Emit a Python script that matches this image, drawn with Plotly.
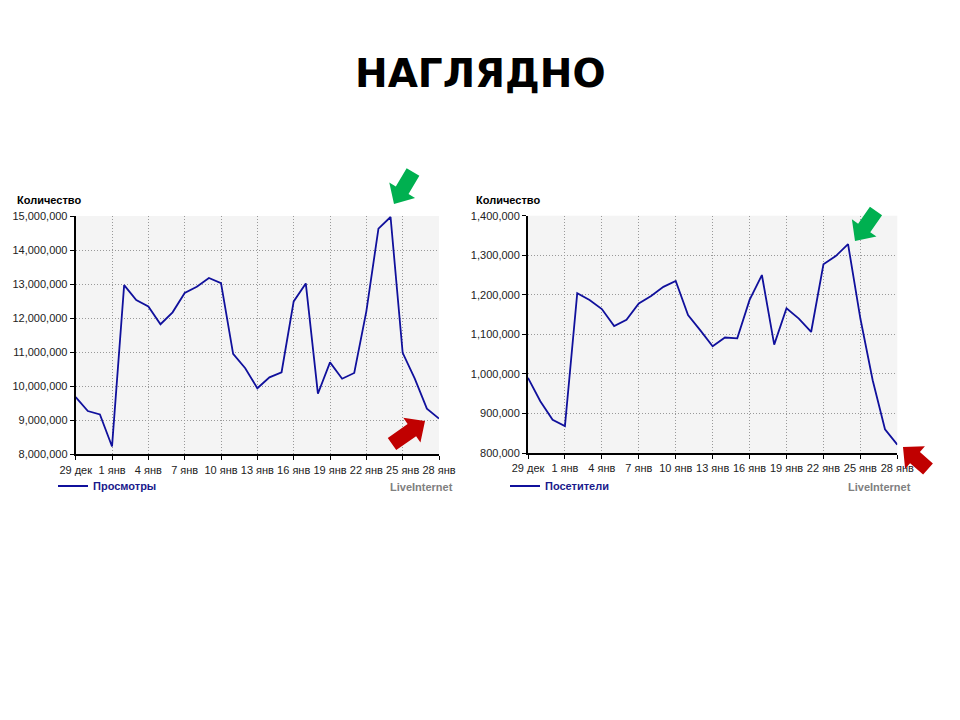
import plotly.graph_objects as go
import pandas as pd

# ---- data ----
dates = [d.strftime("%Y-%m-%d") for d in pd.date_range("2012-12-29", "2013-01-28")]
tick_labels = ["29 дек", "1 янв", "4 янв", "7 янв", "10 янв", "13 янв",
               "16 янв", "19 янв", "22 янв", "25 янв", "28 янв"]
views = [9.68, 9.27, 9.17, 8.23, 12.97, 12.53, 12.34, 11.82, 12.17, 12.74,
         12.92, 13.18, 13.03, 10.95, 10.53, 9.94, 10.26, 10.41, 12.49, 13.02,
         9.78, 10.70, 10.22, 10.39, 12.2, 14.63, 14.97, 10.98, 10.22, 9.34, 9.05]
views = [v * 1_000_000 for v in views]
visitors = [990, 931, 884, 868, 1204, 1187, 1164, 1121, 1137, 1178,
            1197, 1220, 1235, 1149, 1110, 1070, 1092, 1090, 1187, 1250,
            1074, 1166, 1140, 1106, 1277, 1298, 1328, 1140, 984, 860, 821]
visitors = [v * 1000 for v in visitors]
series_names = ["Просмотры", "Посетители"]
title_text = "НАГЛЯДНО"
y_label = "Количество"
source_label = "LiveInternet"

W, H = 960, 720
OFF = 8  # page body margin in the browser
def px(x): return (x - OFF) / W
def py(y): return 1 - (y - OFF) / H

LINE = "#10109c"
FONT = "Liberation Sans"

fig = go.Figure()
fig.add_trace(go.Scatter(x=dates, y=views, mode="lines", name=series_names[0],
                         line=dict(color=LINE, width=1.8), xaxis="x", yaxis="y",
                         legend="legend"))
fig.add_trace(go.Scatter(x=dates, y=visitors, mode="lines", name=series_names[1],
                         line=dict(color=LINE, width=1.8), xaxis="x2", yaxis="y2",
                         legend="legend2"))

GRID = dict(showgrid=True, gridcolor="#999999", griddash="1px,2px", gridwidth=1)
common_x = dict(type="date", range=[dates[0], dates[-1]], tickmode="array",
                tickvals=dates[::3], ticktext=tick_labels, tickangle=0,
                showline=True, linecolor="black", linewidth=2,
                ticks="outside", ticklen=4, tickcolor="black",
                tickfont=dict(family=FONT, size=11, color="#222222"), zeroline=False,
                automargin=False, **GRID)
common_y = dict(showline=True, linecolor="black", linewidth=2,
                ticks="outside", ticklen=4, tickcolor="black", tickformat=",d",
                tickfont=dict(family=FONT, size=11, color="#222222"), zeroline=False,
                automargin=False, **GRID)

fig.update_layout(
    width=W, height=H, autosize=False,
    margin=dict(l=0, r=0, t=0, b=0, pad=0, autoexpand=False),
    paper_bgcolor="white", plot_bgcolor="#f4f4f4",
    xaxis=dict(domain=[px(75.7), px(439)], anchor="y", **common_x),
    yaxis=dict(domain=[py(454.3), py(216)], anchor="x", range=[8e6, 15e6], dtick=1e6, **common_y),
    xaxis2=dict(domain=[px(528), px(897.3)], anchor="y2", **common_x),
    yaxis2=dict(domain=[py(453), py(215.7)], anchor="x2", range=[8e5, 1.4e6], dtick=1e5, **common_y),
    legend=dict(x=px(53), y=py(486), xanchor="left", yanchor="middle", orientation="h",
                font=dict(family=FONT, size=11, color="#1a1a8c", weight="bold"),
                bgcolor="rgba(0,0,0,0)"),
    legend2=dict(x=px(505), y=py(486), xanchor="left", yanchor="middle", orientation="h",
                 font=dict(family=FONT, size=11, color="#1a1a8c", weight="bold"),
                 bgcolor="rgba(0,0,0,0)"),
    showlegend=True,
)

ann = [
    dict(text=title_text, x=px(480), y=py(73), xanchor="center", yanchor="middle",
         font=dict(family="DejaVu Sans", size=39, color="black", weight="bold")),
    dict(text=y_label, x=px(15), y=py(200), xanchor="left", yanchor="middle",
         font=dict(family=FONT, size=11, color="black", weight="bold")),
    dict(text=y_label, x=px(474), y=py(200), xanchor="left", yanchor="middle",
         font=dict(family=FONT, size=11, color="black", weight="bold")),
    dict(text=source_label, x=px(455), y=py(487), xanchor="right", yanchor="middle",
         font=dict(family=FONT, size=11, color="#808080", weight="bold")),
    dict(text=source_label, x=px(913), y=py(487), xanchor="right", yanchor="middle",
         font=dict(family=FONT, size=11, color="#808080", weight="bold")),
]
for a in ann:
    a.update(xref="paper", yref="paper", showarrow=False)
fig.update_layout(annotations=ann)

def arrow_path(tip, tail, head_half=15, head_len=16, shaft_half=7.4):
    tx, ty = tip
    cx, cy = tail
    dx, dy = tx - cx, ty - cy
    L = (dx * dx + dy * dy) ** 0.5
    ux, uy = dx / L, dy / L
    nx, ny = -uy, ux
    nkx, nky = tx - ux * head_len, ty - uy * head_len
    pts = [
        (cx + nx * shaft_half, cy + ny * shaft_half),
        (nkx + nx * shaft_half, nky + ny * shaft_half),
        (nkx + nx * head_half, nky + ny * head_half),
        (tx, ty),
        (nkx - nx * head_half, nky - ny * head_half),
        (nkx - nx * shaft_half, nky - ny * shaft_half),
        (cx - nx * shaft_half, cy - ny * shaft_half),
    ]
    return "M " + " L ".join(f"{px(x):.5f},{py(y):.5f}" for x, y in pts) + " Z"

GREEN, RED = "#00b050", "#c00000"
arrows = [
    ((394, 204), (413, 172), GREEN),
    ((425, 421), (392, 444), RED),
    ((855, 241), (876, 211), GREEN),
    ((903, 447), (928, 469), RED),
]
shapes = [dict(type="path", path=arrow_path(t, c), xref="paper", yref="paper",
               fillcolor=col, line=dict(width=0), layer="above") for t, c, col in arrows]
fig.update_layout(shapes=shapes)

fig.write_html("out.html")
